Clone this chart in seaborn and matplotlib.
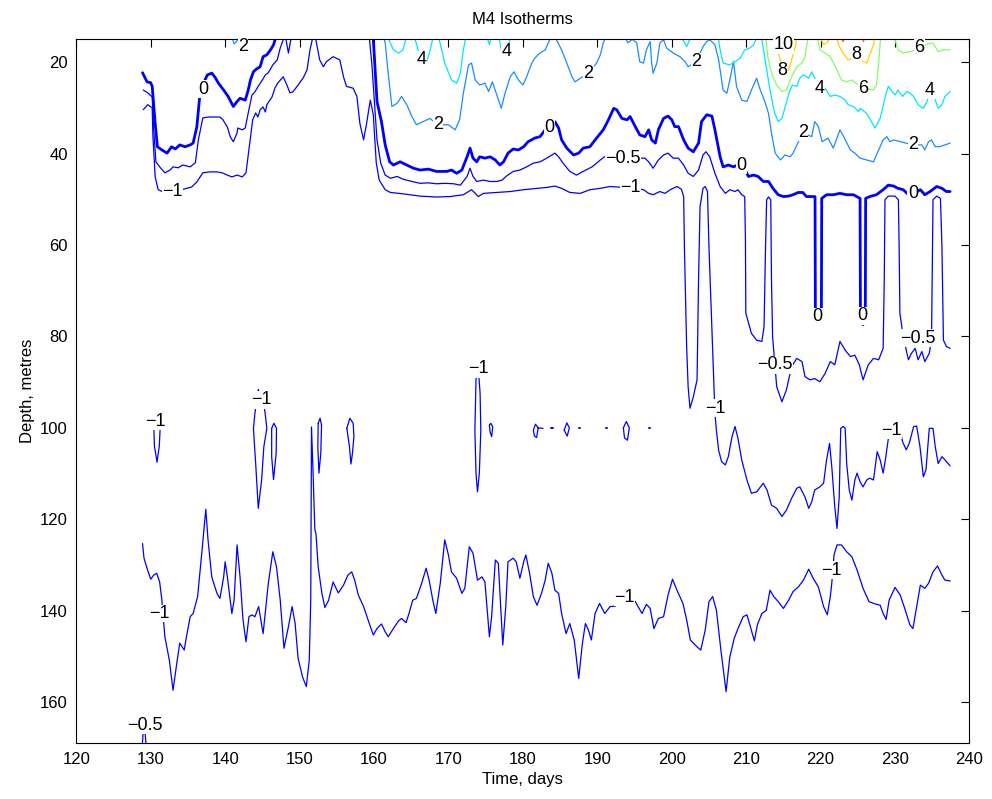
import matplotlib
matplotlib.use("Agg")
import matplotlib.pyplot as plt
import seaborn as sns
import pandas as pd

# ---- isotherm traces: (time [days], depth [m]) ----
# 0 degC isotherm (drawn heavier)
iso_0 = [(128.9, 22.3), (129.5, 24.3), (130.0, 24.5), (130.2, 25.3), (130.6, 33.4), (130.9, 38.5),
         (131.5, 39.2), (132.2, 39.9), (132.8, 38.5), (133.3, 39.0), (133.9, 38.1), (134.6, 38.5),
         (135.3, 38.1), (135.7, 37.7), (136.2, 34.1), (136.6, 27.2), (137.1, 24.6), (137.6, 22.8),
         (138.2, 22.4), (138.6, 23.2), (139.1, 24.6), (139.8, 26.1), (140.4, 27.5), (141.1, 29.7),
         (141.6, 28.6), (142.0, 27.9), (142.7, 28.3), (143.1, 26.1), (143.4, 23.9), (143.8, 22.1),
         (144.2, 21.5), (144.7, 21.0), (145.1, 18.8), (145.6, 18.4), (146.1, 17.3), (146.5, 16.2),
         (146.7, 15.1), (147.2, 13.5), (159.6, 13.5), (159.9, 14.8), (160.4, 28.6), (161.0, 33.0),
         (161.5, 38.1), (162.1, 41.8), (162.6, 42.5), (163.5, 41.8), (164.4, 42.5), (165.3, 43.2),
         (166.2, 43.6), (167.3, 43.4), (168.4, 43.9), (169.8, 43.9), (170.4, 43.6), (171.1, 44.3),
         (171.8, 43.6), (172.5, 40.7), (172.9, 38.8), (173.3, 41.0), (173.8, 41.8), (174.2, 40.7),
         (174.9, 41.0), (175.6, 40.7), (176.3, 41.4), (176.9, 42.5), (177.4, 41.8), (178.0, 39.9),
         (178.7, 39.0), (179.4, 39.2), (180.1, 38.5), (180.7, 37.4), (181.6, 36.6), (182.3, 36.3),
         (183.0, 34.8), (183.6, 33.4), (184.3, 33.0), (184.8, 34.4), (185.2, 37.0), (185.9, 38.8),
         (186.8, 40.3), (187.5, 39.9), (188.1, 38.8), (189.0, 38.5), (189.9, 36.6), (190.8, 34.8),
         (191.5, 32.6), (192.2, 30.1), (192.6, 30.4), (193.3, 32.3), (194.0, 32.6), (194.4, 31.9),
         (195.1, 34.1), (195.7, 35.9), (196.4, 36.3), (196.9, 34.8), (197.3, 37.0), (197.8, 37.7),
         (198.2, 34.8), (198.9, 32.3), (199.5, 31.8), (200.0, 32.6), (200.4, 34.1), (200.9, 34.1),
         (201.6, 37.0), (202.2, 38.8), (202.9, 39.6), (203.6, 37.7), (204.0, 33.0), (204.7, 31.5),
         (205.4, 31.8), (205.8, 34.8), (206.5, 40.7), (206.9, 42.9), (207.6, 42.5), (208.3, 42.9),
         (209.4, 42.1), (210.3, 45.0), (211.0, 44.7), (211.6, 45.0), (212.3, 46.1), (213.0, 46.1),
         (213.6, 47.6), (214.3, 49.0), (215.0, 49.4), (215.7, 49.3), (216.3, 49.0), (217.0, 48.5),
         (217.6, 48.5), (218.1, 49.4), (219.25, 49.4), (219.3, 76.8), (219.7, 77.4), (220.1, 76.8),
         (220.15, 49.8), (220.8, 49.0), (221.7, 49.0), (222.6, 48.7), (223.5, 49.0), (224.4, 49.0),
         (225.3, 49.8), (225.35, 76.8), (225.7, 77.4), (226.0, 76.8), (226.05, 49.8), (226.6, 49.4),
         (227.5, 49.0), (228.4, 47.9), (229.1, 46.9), (229.8, 47.1), (230.4, 47.6), (231.1, 47.9),
         (231.6, 48.7), (232.5, 48.7), (233.4, 47.9), (234.0, 49.0), (234.7, 48.3), (235.6, 47.2),
         (236.3, 47.6), (236.9, 48.3), (237.4, 48.3)]

# -0.5 degC isotherm
iso_m05 = [(129.0, 26.1), (129.6, 26.7), (130.2, 27.6), (130.4, 34.8), (130.7, 41.8), (131.3, 43.1),
           (131.9, 44.2), (132.6, 43.6), (133.0, 42.9), (133.7, 43.1), (134.3, 42.5), (135.3, 42.9),
           (136.0, 42.0), (136.4, 37.0), (137.0, 32.2), (137.7, 32.0), (138.6, 32.0), (139.3, 32.0),
           (139.7, 32.6), (140.3, 34.2), (140.7, 36.4), (141.1, 37.4), (141.6, 35.5), (141.7, 34.4),
           (142.3, 34.8), (142.7, 34.4), (143.1, 31.1), (143.6, 27.2), (144.0, 26.5), (144.4, 25.4),
           (145.0, 23.9), (145.4, 22.8), (145.8, 22.3), (146.4, 20.6), (147.0, 19.5), (147.4, 16.9),
           (147.8, 15.1), (148.0, 13.5), (148.5, 18.0), (149.0, 13.5), (159.3, 13.5), (159.7, 20.2),
           (160.0, 27.5), (160.4, 37.0), (160.9, 42.1), (161.5, 44.7), (162.2, 45.4), (163.1, 45.0),
           (163.9, 45.6), (165.1, 46.1), (166.2, 46.5), (167.3, 46.4), (168.4, 46.6), (169.5, 46.5),
           (170.7, 46.6), (171.6, 46.9), (172.5, 45.0), (172.9, 43.2), (173.3, 45.0), (173.8, 46.1),
           (174.7, 45.8), (175.6, 46.1), (176.5, 46.1), (177.2, 45.8), (177.8, 44.9), (178.7, 43.9),
           (179.6, 43.6), (180.5, 42.9), (181.4, 42.1), (182.3, 41.8), (183.2, 41.0), (184.3, 39.9),
           (184.8, 40.7), (185.4, 42.1), (186.3, 43.9), (187.2, 44.7), (188.1, 43.9), (189.3, 42.9),
           (190.4, 41.4), (191.3, 40.3), (193.3, 41.0), (196.4, 41.0), (196.9, 41.8), (197.5, 43.2),
           (198.2, 41.4), (198.9, 40.3), (199.5, 39.9), (200.2, 41.0), (200.9, 41.0), (201.6, 42.5),
           (202.2, 44.3), (202.9, 45.0), (203.6, 43.6), (204.2, 40.3), (204.6, 39.6), (205.1, 40.7),
           (205.8, 44.3), (206.5, 47.2), (207.2, 48.7), (207.8, 47.9), (208.5, 48.3), (208.9, 47.9),
           (209.4, 49.0), (209.8, 49.4), (209.9, 58.9), (209.95, 74.9), (210.7, 79.3), (211.4, 80.8),
           (212.1, 81.1), (212.4, 77.9), (212.6, 60.4), (212.75, 50.1), (213.0, 49.5), (213.3, 50.1),
           (213.4, 67.6), (213.55, 80.1), (214.1, 91.0), (214.8, 94.3), (215.4, 91.7), (216.1, 86.6),
           (216.8, 84.8), (217.5, 85.5), (217.9, 88.8), (218.6, 89.5), (219.2, 89.2), (219.9, 89.9),
           (220.6, 88.1), (221.3, 85.5), (221.9, 86.2), (222.6, 81.1), (223.3, 83.0), (224.0, 84.4),
           (224.6, 84.1), (225.2, 86.2), (225.7, 89.5), (226.4, 86.2), (227.1, 84.8), (227.8, 85.1),
           (228.4, 82.6), (228.55, 67.6), (228.65, 50.1), (229.1, 49.3), (230.0, 49.3), (230.45, 50.1),
           (230.55, 60.4), (230.65, 74.9), (231.1, 80.1), (231.8, 85.1), (232.2, 83.7), (232.7, 82.6),
           (233.1, 85.1), (233.6, 83.3), (234.0, 85.5), (234.6, 83.7), (234.9, 80.8), (235.1, 50.1),
           (235.6, 49.3), (236.1, 49.8), (236.3, 60.4), (236.5, 80.8), (236.9, 82.2), (237.4, 82.6)]

# -1 degC isotherm, upper branch
iso_m1_upper = [(129.0, 30.4), (129.6, 29.3), (130.2, 30.0), (130.3, 36.4), (130.6, 45.1), (131.0, 47.9),
                (131.7, 48.4), (133.0, 48.4), (135.5, 47.3), (136.2, 46.2), (137.0, 44.2), (138.0, 44.0),
                (138.9, 44.0), (139.6, 44.2), (140.3, 44.7), (140.9, 45.1), (141.6, 44.7), (142.3, 45.1),
                (142.8, 44.2), (143.3, 37.7), (143.7, 32.6), (144.1, 31.1), (144.4, 32.0), (144.7, 30.4),
                (145.1, 29.8), (145.4, 30.9), (145.6, 29.3), (146.3, 27.6), (146.7, 25.6), (147.1, 24.5),
                (147.8, 23.2), (148.3, 25.0), (148.7, 26.7), (149.1, 26.5), (149.8, 25.0), (150.5, 23.4),
                (151.0, 21.7), (151.4, 17.3), (151.7, 15.1), (152.0, 13.5), (152.7, 19.5), (153.2, 21.0),
                (153.6, 19.9), (154.5, 18.8), (155.4, 19.5), (155.9, 23.2), (156.3, 25.3), (157.2, 25.7),
                (157.7, 27.5), (158.1, 33.4), (158.6, 37.0), (159.0, 33.4), (159.5, 28.3), (159.9, 31.5),
                (160.3, 42.0), (160.7, 45.8), (161.5, 47.9), (162.2, 48.5), (163.9, 48.8), (166.2, 49.3),
                (168.4, 49.5), (170.2, 49.4), (172.0, 49.0), (172.7, 48.3), (173.1, 47.9), (173.6, 48.7),
                (174.0, 49.4), (174.7, 48.7), (176.5, 48.5), (178.3, 48.3), (180.1, 47.9), (181.9, 47.6),
                (183.2, 47.4), (184.3, 47.1), (185.2, 47.6), (186.3, 48.5), (187.7, 48.7), (189.0, 47.9),
                (190.4, 47.6), (191.7, 47.2), (194.4, 47.5), (196.2, 47.9), (196.9, 48.7), (197.5, 49.0),
                (198.4, 48.3), (199.1, 48.7), (199.8, 47.9), (200.7, 47.2), (201.3, 47.8), (201.6, 49.4),
                (201.7, 60.4), (202.0, 82.2), (202.2, 91.0), (202.45, 95.7), (202.9, 93.2), (203.4, 89.5),
                (203.6, 67.6), (203.8, 51.6), (204.2, 47.6), (204.5, 47.2), (204.8, 48.3), (205.0, 60.4),
                (205.4, 78.6), (205.8, 96.8), (206.0, 100.5), (206.3, 104.9), (206.7, 107.4), (207.2, 108.1),
                (207.6, 106.3), (208.1, 101.9), (208.5, 99.7), (208.9, 102.3), (209.4, 107.0), (210.1, 111.4),
                (210.7, 114.3), (211.4, 114.0), (212.3, 112.1), (212.8, 113.6), (213.4, 116.9), (214.1, 117.6),
                (214.8, 119.4), (215.4, 118.0), (216.1, 115.4), (216.8, 113.2), (217.2, 112.9), (217.9, 115.1),
                (218.4, 117.6), (218.8, 116.2), (219.2, 113.6), (219.9, 112.9), (220.4, 112.1), (220.8, 107.0),
                (221.2, 103.4), (221.5, 108.5), (221.9, 117.2), (222.2, 122.0), (222.5, 115.1), (222.7, 100.1),
                (223.05, 99.7), (223.3, 100.1), (223.5, 107.8), (223.85, 113.6), (224.2, 115.8), (224.6, 111.4),
                (224.9, 109.9), (225.3, 111.8), (225.7, 112.9), (226.2, 111.4), (226.6, 111.0), (227.1, 111.4),
                (227.6, 105.2), (228.0, 107.0), (228.4, 109.9), (228.7, 107.0), (229.1, 102.3), (229.6, 100.5),
                (230.7, 100.5), (231.0, 103.0), (231.5, 104.8), (231.9, 103.4), (232.5, 99.7), (232.9, 99.6),
                (233.35, 104.1), (233.8, 110.7), (234.15, 109.2), (234.6, 100.1), (235.1, 100.1), (235.4, 104.1),
                (235.8, 107.8), (236.3, 106.3), (236.7, 107.0), (237.4, 108.3)]

# -1 degC isotherm, deep branch
iso_m1_deep = [(128.9, 125.3), (129.1, 128.5), (129.5, 130.7), (130.0, 133.1), (130.4, 132.2), (130.8, 131.8),
               (131.2, 133.7), (131.5, 137.7), (131.9, 145.7), (132.5, 150.8), (133.0, 157.4), (133.5, 151.5),
               (133.9, 147.1), (134.5, 148.6), (134.8, 145.7), (135.3, 141.3), (135.7, 140.6), (136.3, 136.9),
               (136.9, 126.7), (137.4, 117.8), (137.7, 124.5), (138.2, 132.6), (138.9, 136.2), (139.3, 137.3),
               (139.8, 132.6), (140.0, 129.3), (140.3, 132.6), (140.9, 140.6), (141.2, 137.7), (141.6, 125.6),
               (142.0, 132.6), (142.4, 142.0), (142.8, 146.8), (143.2, 141.3), (143.6, 140.9), (144.0, 141.3),
               (144.5, 139.1), (144.8, 142.0), (145.1, 145.0), (145.8, 134.0), (146.4, 127.1), (146.9, 130.4),
               (147.4, 137.7), (147.9, 148.2), (148.5, 143.5), (149.0, 139.1), (149.4, 142.8), (149.8, 150.4),
               (150.4, 154.5), (150.9, 156.6), (151.3, 150.8), (151.5, 137.7), (151.55, 115.8), (151.6, 99.8),
               (151.8, 109.2), (152.05, 122.3), (152.2, 123.1), (152.5, 130.4), (153.0, 136.2), (153.4, 139.3),
               (153.9, 137.7), (154.5, 133.7), (154.9, 135.1), (155.2, 136.1), (155.9, 134.4), (156.5, 132.2),
               (157.0, 131.5), (157.4, 133.3), (157.9, 136.6), (158.6, 139.1), (159.2, 142.0), (159.9, 145.3),
               (160.4, 143.9), (161.0, 142.9), (161.5, 144.6), (161.9, 145.7), (162.6, 143.9), (163.3, 142.2),
               (163.7, 141.7), (164.3, 142.6), (164.7, 140.6), (165.2, 137.7), (165.7, 137.3), (166.4, 134.0),
               (167.0, 130.7), (167.4, 133.3), (167.9, 137.7), (168.3, 140.6), (168.9, 134.0), (169.5, 124.5),
               (170.0, 127.8), (170.4, 131.5), (171.1, 132.9), (171.8, 136.2), (172.2, 135.1), (172.8, 126.0),
               (173.3, 127.4), (173.9, 133.3), (174.5, 132.6), (174.9, 133.7), (175.5, 145.7), (175.8, 141.3),
               (176.3, 128.9), (176.7, 129.6), (177.3, 147.5), (177.7, 139.1), (178.0, 129.3), (178.7, 128.5),
               (179.1, 129.3), (179.6, 132.9), (180.1, 129.3), (180.4, 127.8), (180.9, 131.8), (181.4, 136.9),
               (181.9, 138.8), (182.5, 136.2), (183.0, 133.3), (183.4, 129.6), (183.9, 131.8), (184.3, 135.5),
               (184.8, 136.2), (185.2, 140.6), (185.8, 145.0), (186.3, 142.8), (186.9, 146.4), (187.5, 154.8),
               (188.0, 147.1), (188.4, 142.8), (188.8, 144.2), (189.2, 146.4), (189.7, 140.6), (190.3, 138.4),
               (191.0, 140.6), (191.7, 139.1), (192.4, 139.0), (193.3, 135.3), (194.4, 136.9), (195.1, 138.0),
               (196.0, 140.6), (196.6, 138.6), (197.1, 139.5), (197.6, 143.9), (198.2, 141.7), (198.9, 141.3),
               (199.5, 136.6), (200.1, 133.1), (200.7, 135.5), (201.5, 138.4), (202.0, 142.0), (202.5, 146.4),
               (203.4, 147.9), (203.9, 148.6), (204.5, 144.2), (205.0, 138.0), (205.5, 136.9), (206.0, 139.9),
               (206.6, 148.6), (207.3, 157.7), (207.8, 150.1), (208.4, 146.0), (208.9, 143.9), (209.6, 141.3),
               (210.1, 140.9), (210.5, 143.1), (211.1, 146.6), (211.5, 143.1), (212.1, 140.6), (212.7, 139.9),
               (213.2, 135.5), (213.7, 136.9), (214.3, 138.0), (215.0, 139.5), (215.7, 137.7), (216.3, 135.8),
               (217.0, 134.8), (217.7, 133.3), (218.4, 130.9), (219.0, 132.9), (219.7, 134.8), (220.4, 139.1),
               (220.9, 140.9), (221.3, 136.9), (221.5, 134.0), (221.8, 127.8), (222.2, 125.6), (222.8, 125.6),
               (223.5, 127.1), (224.2, 128.2), (224.9, 131.1), (225.7, 135.1), (226.5, 138.0), (227.3, 138.5),
               (228.0, 138.8), (228.4, 140.6), (228.8, 141.9), (229.2, 137.7), (230.0, 134.9), (230.7, 136.6),
               (231.3, 139.5), (232.0, 143.1), (232.4, 143.9), (232.9, 139.1), (233.4, 134.4), (234.0, 135.1),
               (234.5, 134.0), (235.1, 131.5), (235.7, 130.2), (236.3, 132.2), (236.7, 133.3), (237.4, 133.5)]

# closed -1 degC patches around 100 m
loop_a = [(130.4, 99.5), (130.5, 104.0), (130.85, 107.5), (131.15, 104.0), (131.3, 99.0), (130.9, 97.8), (130.4, 99.5)]
loop_b = [(144.45, 91.7), (144.0, 96.8), (143.8, 100.1), (144.1, 107.8), (144.45, 117.6), (144.9, 111.4),
          (145.2, 104.1), (145.6, 100.1), (145.35, 96.5), (144.9, 93.0), (144.45, 91.7)]
loop_c = [(146.25, 100.1), (146.55, 99.0), (146.9, 100.1), (146.85, 105.6), (146.5, 111.3), (146.25, 106.3), (146.25, 100.1)]
loop_d = [(152.5, 99.0), (152.75, 97.9), (152.95, 99.4), (152.85, 105.6), (152.6, 109.9), (152.45, 104.1), (152.5, 99.0)]
loop_e = [(156.35, 100.1), (156.75, 97.9), (157.2, 99.0), (157.3, 101.9), (157.1, 105.6), (156.9, 107.9),
          (156.7, 104.1), (156.35, 100.1)]
loop_f = [(173.95, 85.8), (173.7, 89.5), (173.55, 100.5), (173.7, 109.9), (173.9, 114.0), (174.15, 109.9),
          (174.35, 100.5), (174.25, 92.4), (173.95, 85.8)]
loop_g = [(175.5, 99.4), (175.7, 99.0), (175.95, 99.8), (175.8, 101.9), (175.6, 100.9), (175.5, 99.4)]
loop_h = [(182.7, 100.1), (182.05, 100.0), (181.7, 99.2), (181.4, 100.5), (181.55, 101.8), (181.85, 102.1), (182.05, 100.0)]
loop_j = [(185.55, 100.5), (185.9, 98.9), (186.25, 100.0), (185.95, 101.8), (185.55, 100.5)]
loop_m = [(193.5, 100.0), (193.9, 98.6), (194.3, 100.0), (194.05, 102.7), (193.65, 102.2), (193.5, 100.0)]
dots_m1 = [(183.9, 100.0), (187.6, 100.0), (191.2, 100.0), (197.0, 100.0)]

# -0.5 degC sliver at the bottom edge
iso_m05_bottom = [(128.85, 170.0), (129.1, 163.5), (129.4, 170.0)]

# 2 degC isotherm pieces
iso_2 = [
    [(140.8, 14.0), (141.2, 16.0), (141.6, 15.3), (142.1, 14.0)],
    [(161.2, 14.0), (161.5, 15.8), (161.9, 22.4), (162.4, 29.7), (163.1, 29.0), (163.7, 27.5), (164.4, 29.3),
     (165.1, 31.9), (165.7, 33.7), (166.6, 33.0), (167.5, 32.3), (168.6, 33.7), (170.0, 33.7), (170.9, 34.8),
     (171.5, 32.6), (172.0, 26.8), (172.7, 20.6), (173.1, 20.2), (173.6, 23.9), (174.2, 25.0), (174.9, 24.6),
     (175.4, 26.4), (175.9, 24.3), (176.5, 27.2), (177.1, 30.1), (177.6, 26.8), (178.3, 23.2), (178.8, 22.1),
     (179.4, 23.9), (180.0, 25.0), (180.5, 23.2), (181.2, 20.2), (181.6, 19.1), (182.3, 18.0), (183.0, 17.3),
     (183.6, 15.1), (183.9, 14.0), (184.4, 14.0), (184.5, 15.1), (185.2, 17.3), (185.9, 20.2), (186.6, 23.2),
     (187.0, 24.3), (188.8, 22.4), (189.9, 20.2), (190.4, 18.4), (190.8, 15.8), (191.3, 14.0)],
    [(193.6, 14.0), (194.1, 15.8), (194.7, 15.0), (195.3, 15.8), (195.7, 19.9), (196.2, 20.2), (196.6, 17.3),
     (197.1, 15.5), (197.3, 20.2), (197.5, 22.4), (198.0, 20.2), (198.4, 15.8), (198.9, 15.1), (199.3, 16.9),
     (200.2, 18.0), (201.1, 18.8), (201.8, 19.9), (202.2, 21.0), (203.3, 19.9), (204.2, 16.6), (204.7, 15.5),
     (205.1, 15.1), (205.8, 16.2), (206.3, 19.5), (206.9, 26.1), (207.4, 26.8), (207.8, 23.9), (208.3, 19.9),
     (208.7, 25.3), (209.4, 28.3), (210.1, 28.6), (210.7, 26.1), (211.4, 23.5), (211.9, 26.1), (212.5, 28.6),
     (213.0, 31.2), (213.4, 35.5), (213.9, 39.9), (214.6, 41.4), (215.2, 40.3), (215.9, 40.7), (216.3, 39.9),
     (217.6, 35.4), (218.8, 36.3), (219.2, 33.0), (219.7, 34.1), (220.2, 37.4), (220.6, 37.0), (221.0, 36.6),
     (221.7, 38.8), (222.6, 34.8), (223.1, 36.3), (224.0, 39.2), (224.6, 39.9), (225.3, 41.0), (226.2, 41.4),
     (227.1, 41.8), (227.8, 39.2), (228.4, 37.0), (228.9, 36.3), (229.3, 37.4), (229.8, 37.0), (232.4, 38.1),
     (233.6, 38.1), (234.0, 39.2), (234.5, 37.4), (234.9, 37.0), (235.4, 38.5), (236.0, 38.5), (236.7, 38.1),
     (237.4, 37.7)],
]

# 4 degC isotherm pieces
iso_4 = [
    [(161.7, 14.0), (162.6, 17.3), (163.3, 18.0), (163.9, 17.3), (164.4, 14.0)],
    [(165.3, 14.0), (165.8, 16.5), (166.3, 19.8), (167.0, 20.2), (167.5, 17.7), (168.0, 14.0)],
    [(168.6, 14.0), (169.1, 17.3), (169.5, 20.2), (170.4, 23.9), (171.1, 24.6), (171.6, 22.4), (172.0, 17.3), (172.4, 14.0)],
    [(175.1, 14.0), (175.5, 16.2), (175.8, 14.0)],
    [(176.7, 14.0), (177.2, 18.0), (177.6, 18.8), (178.0, 17.3), (178.4, 14.0)],
    [(201.1, 14.0), (202.0, 16.6), (202.7, 14.0)],
    [(206.2, 14.0), (206.5, 17.3), (206.9, 20.2), (207.8, 20.6), (208.5, 19.9), (209.2, 19.1), (209.8, 17.3),
     (210.5, 16.9), (211.0, 16.2), (211.6, 14.0), (212.0, 14.0), (212.5, 19.0), (213.2, 26.1), (213.8, 31.0),
     (214.3, 33.0), (214.8, 32.3), (215.2, 30.0), (215.8, 26.5), (216.2, 25.0), (216.8, 25.3), (217.2, 23.5),
     (217.7, 22.8), (218.4, 23.5), (218.8, 22.1), (219.9, 25.7), (220.6, 25.7), (221.3, 27.5), (221.9, 27.2),
     (222.6, 27.5), (223.3, 28.3), (223.7, 29.3), (224.4, 29.7), (225.1, 30.8), (225.3, 30.1), (226.2, 31.2),
     (227.3, 34.4), (228.0, 32.3), (228.7, 27.5), (229.1, 25.3), (229.6, 26.4), (230.0, 27.2), (230.4, 26.1),
     (231.0, 27.5), (231.6, 26.4), (232.0, 26.8), (232.5, 27.5), (233.1, 29.3), (233.8, 30.1), (234.3, 28.6),
     (234.7, 26.1), (235.4, 28.3), (235.8, 30.1), (236.3, 29.3), (236.7, 27.5), (237.4, 26.4)],
]

# 6 degC isotherm pieces
iso_6 = [
    [(212.6, 14.0), (212.9, 18.8), (213.4, 22.4), (214.1, 25.0), (214.8, 26.4), (215.4, 26.1), (216.1, 23.2),
     (216.8, 21.0), (217.5, 20.2), (217.9, 18.8), (218.1, 16.6), (218.4, 14.0)],
    [(219.5, 14.0), (219.9, 17.3), (220.6, 18.0), (221.3, 18.8), (222.2, 21.7), (222.8, 23.9), (223.5, 24.3),
     (224.2, 23.9), (225.7, 25.7), (227.1, 26.1), (227.5, 25.0), (227.8, 20.2), (228.0, 15.8), (228.1, 14.0)],
    [(229.8, 14.0), (230.4, 17.3), (231.1, 18.0), (232.2, 17.6), (233.3, 16.9), (234.4, 16.0), (235.1, 15.8),
     (235.8, 17.7), (236.5, 17.3), (237.4, 17.3)],
]

# 8 degC isotherm pieces
iso_8 = [
    [(213.4, 14.0), (214.1, 17.3), (214.6, 19.5), (214.9, 21.8), (215.7, 21.7), (216.1, 19.5), (216.6, 16.6), (216.8, 14.0)],
    [(219.8, 14.0), (220.4, 16.2), (221.0, 15.5), (221.3, 14.0)],
    [(222.1, 14.0), (222.4, 16.2), (223.0, 18.0), (223.7, 19.5), (224.8, 18.8), (225.7, 19.9), (226.2, 20.2),
     (226.6, 18.4), (227.1, 16.2), (227.3, 14.0)],
]

# 10 degC isotherm pieces
iso_10 = [
    [(214.4, 14.0), (214.8, 15.9), (215.5, 15.9), (215.9, 14.0)],
    [(222.6, 14.0), (223.0, 15.5), (223.5, 14.0)],
    [(225.5, 14.0), (225.75, 15.5), (226.0, 14.0)],
]

# contour labels: (text, time, depth)
labels = [
    ("0", 137.0, 25.9), ("\u22121", 132.9, 48.3), ("2", 142.4, 16.6), ("4", 166.4, 19.5),
    ("4", 177.8, 17.7), ("2", 168.6, 33.7), ("0", 183.6, 34.4), ("\u22120.5", 193.4, 41.0),
    ("\u22121", 194.5, 47.5), ("2", 188.8, 22.4), ("2", 203.3, 19.9), ("0", 209.4, 42.5),
    ("10", 215.0, 16.2), ("8", 214.9, 21.8), ("8", 224.8, 18.4), ("6", 233.3, 16.9),
    ("4", 219.9, 25.7), ("6", 225.7, 25.7), ("4", 234.7, 26.1), ("2", 217.6, 35.4),
    ("2", 232.4, 38.1), ("0", 232.4, 48.7), ("0", 219.6, 75.7), ("0", 225.6, 75.5),
    ("\u22120.5", 213.9, 86.2), ("\u22120.5", 233.1, 80.4), ("\u22121", 205.8, 95.7),
    ("\u22121", 229.5, 100.5), ("\u22121", 130.6, 98.6), ("\u22121", 144.9, 93.9),
    ("\u22121", 174.0, 87.1), ("\u22121", 131.2, 140.6), ("\u22121", 193.7, 137.0),
    ("\u22121", 221.5, 131.1), ("\u22120.5", 129.2, 165.0),
]

# line colours by temperature (jet-like)
col_cold = "#0000ff"
col_2 = "#1a8cff"
col_4 = "#00e5ff"
col_6 = "#80ff60"
col_8 = "#ffd000"
col_10 = "#ff6a00"

sns.set_style("white")
plt.rcParams["font.family"] = ["Liberation Sans", "DejaVu Sans"]
plt.rcParams["text.color"] = "black"
plt.rcParams["axes.labelcolor"] = "black"

fig = plt.figure(figsize=(9.92, 7.99), dpi=100)
ax = fig.add_axes([0.0769, 0.0697, 0.9004, 0.8811])


def trace(points, color, lw):
    df = pd.DataFrame(points, columns=["time", "depth"])
    sns.lineplot(data=df, x="time", y="depth", ax=ax, sort=False, estimator=None,
                 color=color, linewidth=lw, solid_joinstyle="round", solid_capstyle="round")


thin = 0.9
for seg in [iso_m1_upper, iso_m1_deep, iso_m05, iso_m05_bottom,
            loop_a, loop_b, loop_c, loop_d, loop_e, loop_f, loop_g, loop_h, loop_j, loop_m]:
    trace(seg, col_cold, thin)
for t0, d0 in dots_m1:
    trace([(t0 - 0.08, d0), (t0 + 0.08, d0)], col_cold, 1.4)
trace(iso_0, col_cold, 2.0)
for seg in iso_2:
    trace(seg, col_2, thin)
for seg in iso_4:
    trace(seg, col_4, thin)
for seg in iso_6:
    trace(seg, col_6, thin)
for seg in iso_8:
    trace(seg, col_8, thin)
for seg in iso_10:
    trace(seg, col_10, thin)

for txt, t0, d0 in labels:
    ax.text(t0, d0, txt, ha="center", va="center", fontsize=13, color="black", zorder=5,
            bbox=dict(facecolor="white", edgecolor="none", pad=0.2))

ax.set_xlim(120, 240)
ax.set_ylim(169, 15)
ax.set_xticks(range(120, 241, 10))
ax.set_yticks(range(20, 161, 20))
ax.tick_params(direction="in", length=6, width=0.8, top=True, right=True,
               labelsize=12, colors="black", pad=6)
for sp in ax.spines.values():
    sp.set_color("black")
    sp.set_linewidth(0.8)
ax.grid(False)
ax.set_xlabel("Time, days", fontsize=12, color="black")
ax.set_ylabel("Depth, metres", fontsize=12, color="black")
ax.set_title("M4 Isotherms", fontsize=12, pad=11, color="black")

fig.savefig("out.png", dpi=100)
